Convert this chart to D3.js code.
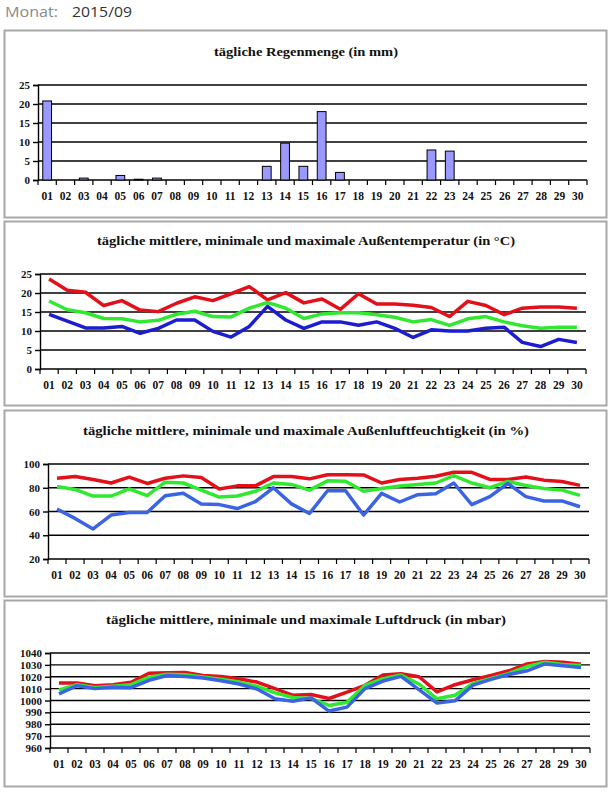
<!DOCTYPE html>
<html><head><meta charset="utf-8">
<script src="https://cdn.jsdelivr.net/npm/d3@7"></script>
<style>body{margin:0;background:#fff}svg{display:block}</style>
</head><body><svg id="c" width="610" height="793"></svg>
<script>
const days = ["01","02","03","04","05","06","07","08","09","10","11","12","13","14","15","16","17","18","19","20","21","22","23","24","25","26","27","28","29","30"];

const rain = [20.8,0,0.5,0,1.2,0.2,0.5,0,0,0,0,0,3.6,9.7,3.6,18,2.0,0,0,0,0,7.9,7.6,0,0,0,0,0,0,0];
const rainTicks = [0,5,10,15,20,25];

const tempMax  = [23.7,20.7,20.2,16.7,18.0,15.5,15.1,17.3,19.0,18.0,19.8,21.7,18.2,20.1,17.4,18.4,15.7,19.8,17.1,17.1,16.8,16.2,13.8,17.8,16.7,14.3,16.0,16.3,16.3,16.0];
const tempMean = [17.9,15.6,14.8,13.3,13.2,12.4,12.8,14.4,15.2,13.8,13.7,16.0,17.5,16.0,13.3,14.5,14.8,14.8,14.3,13.6,12.4,13.0,11.5,13.2,13.8,12.4,11.4,10.7,11.0,11.0];
const tempMin  = [14.4,12.6,10.8,10.8,11.2,9.4,10.7,12.9,12.9,9.9,8.4,11.2,16.5,12.9,10.7,12.4,12.4,11.5,12.4,10.7,8.3,10.3,10.0,10.0,10.7,11.0,7.0,5.9,7.8,7.0];
const tempTicks = [0,5,10,15,20,25];

const humMax  = [88,89.4,87,84,89,83.6,88,90,88.6,79,81.6,81.6,89.4,89.4,87.5,91,91,90.8,84,87,88,89.7,93,93,87,87,89,86.4,85.3,82];
const humMean = [81,78.6,73,73,79,73.3,84.7,84,78,72.2,73,77,84,82.8,78,85.8,85.5,77,79.4,81.4,82.8,84,90.3,84,80,85.3,81.9,79.4,78,73.6];
const humMin  = [62,54.2,45.3,57,59.2,59.2,73.3,75.3,66.4,65.8,62.5,68.3,80,66.4,58.3,77.5,77.5,57,75.3,68,74.2,75,84,65.8,72.5,83.6,72.5,68.9,68.9,64];
const humTicks = [20,40,60,80,100];

const presMax  = [1014.7,1014.7,1012.5,1013.3,1015.3,1023,1023.3,1023.6,1021,1020.3,1018.3,1015.5,1010,1004.4,1005,1001.7,1007,1012.8,1021.4,1022.5,1020,1007.2,1013.3,1017.5,1021,1025,1030.8,1032.8,1032.2,1030.5];
const presMean = [1009,1013.3,1011,1012,1013.3,1019.7,1022.2,1021.7,1019.7,1018,1015.5,1012,1006.4,1002.5,1001.7,995.8,998.6,1012.8,1018.3,1021.4,1013.9,1001.4,1004.4,1014.4,1018.6,1022.8,1028.6,1032.2,1030.3,1029.4];
const presMin  = [1005.6,1012.5,1010,1011.1,1010.8,1017,1021.1,1020.3,1018.9,1016.7,1013.9,1009.7,1001.4,999.4,1002.2,991.1,994.4,1010,1016.4,1020.3,1009.2,997.8,999.7,1013,1017.8,1021.9,1025,1030.8,1029.2,1027.8];
const presTicks = [960,970,980,990,1000,1010,1020,1030,1040];

const titles = [
  "tägliche Regenmenge (in mm)",
  "tägliche mittlere, minimale und maximale Außentemperatur (in °C)",
  "tägliche mittlere, minimale und maximale Außenluftfeuchtigkeit (in %)",
  "tägliche mittlere, minimale und maximale Luftdruck (in mbar)"
];

const RED = "#e3101a", GREEN = "#30e830";
const panels = [
  {box:[30,217], x0:38, x1:587, y0:85, y1:180, ticks:rainTicks, title:titles[0], tw:184, bars:rain},
  {box:[221,405], x0:40, x1:586, y0:274, y1:369, ticks:tempTicks, title:titles[1], tw:418,
    lines:[[tempMax,RED],[tempMean,GREEN],[tempMin,"#1c1cd0"]]},
  {box:[410,596], x0:48, x1:589, y0:464, y1:559, ticks:humTicks, title:titles[2], tw:446,
    lines:[[humMax,RED],[humMean,GREEN],[humMin,"#3b64e4"]]},
  {box:[600,786], x0:50, x1:590, y0:653, y1:748, ticks:presTicks, title:titles[3], tw:400,
    lines:[[presMax,RED],[presMean,GREEN],[presMin,"#3b64e4"]]}
];

const svg = d3.select("#c");
svg.append("rect").attr("width",610).attr("height",793).attr("fill","#fff");

// header
svg.append("text").attr("x",5).attr("y",17).attr("font-family","Open Sans, sans-serif")
  .attr("font-size",15).attr("fill","#8a8a8a").attr("textLength",53).attr("lengthAdjust","spacingAndGlyphs").text("Monat:");
svg.append("text").attr("x",72).attr("y",17).attr("font-family","Open Sans, sans-serif")
  .attr("font-size",15).attr("fill","#333").attr("textLength",60).attr("lengthAdjust","spacingAndGlyphs").text("2015/09");

const fontTick = "Liberation Serif, DejaVu Serif, serif";

panels.forEach(p => {
  const g = svg.append("g");
  g.append("rect").attr("x",4.5).attr("y",p.box[0]+0.5).attr("width",602).attr("height",p.box[1]-p.box[0])
    .attr("fill","#fff").attr("stroke","#a8a8a8").attr("stroke-width",2);

  g.append("text").attr("x",306).attr("y",p.y0-32).attr("text-anchor","middle").attr("dominant-baseline","middle")
    .attr("font-family",fontTick).attr("font-weight","bold").attr("font-size",13).attr("fill","#111")
    .attr("textLength",p.tw).attr("lengthAdjust","spacingAndGlyphs").text(p.title);

  const x = d3.scaleBand().domain(days).range([p.x0,p.x1]);
  const y = d3.scaleLinear().domain(d3.extent(p.ticks)).range([p.y1,p.y0]);

  // gridlines
  g.append("g").selectAll("line").data(p.ticks.slice(1)).join("line")
    .attr("x1",p.x0).attr("x2",p.x1).attr("y1",d=>y(d)).attr("y2",d=>y(d))
    .attr("stroke","#000").attr("stroke-width",1.4);

  // y axis
  const ya = d3.axisLeft(y).tickValues(p.ticks).tickSize(5).tickPadding(3).tickFormat(d3.format("d"));
  const yg = g.append("g").attr("transform",`translate(${p.x0},0)`).call(ya);
  yg.select(".domain").attr("stroke","#000").attr("stroke-width",1.4);
  yg.selectAll(".tick line").attr("stroke","#000").attr("stroke-width",1.4);
  yg.selectAll(".tick text").attr("font-family",fontTick).attr("font-weight","bold").attr("font-size",11).attr("fill","#111");

  // x axis
  const xa = d3.axisBottom(x).tickSize(0).tickPadding(12);
  const xg = g.append("g").attr("transform",`translate(0,${p.y1})`).call(xa);
  xg.select(".domain").remove();
  xg.selectAll(".tick text").attr("font-family",fontTick).attr("font-weight","bold").attr("font-size",11.5).attr("fill","#111");
  g.append("line").attr("x1",p.x0).attr("x2",p.x1).attr("y1",p.y1).attr("y2",p.y1).attr("stroke","#000").attr("stroke-width",1.4);
  // x ticks at band boundaries
  const bounds = days.map(d=>x(d)).concat([x(days[days.length-1])+x.bandwidth()]);
  g.append("g").selectAll("line").data(bounds).join("line")
    .attr("x1",d=>d).attr("x2",d=>d).attr("y1",p.y1).attr("y2",p.y1+5).attr("stroke","#000").attr("stroke-width",1.2);

  if (p.bars) {
    const bw = x.bandwidth()*0.48;
    g.append("g").selectAll("rect").data(p.bars.map((v,i)=>({d:days[i],v})).filter(o=>o.v>0)).join("rect")
      .attr("x",o=>x(o.d)+(x.bandwidth()-bw)/2).attr("width",bw)
      .attr("y",o=>y(o.v)).attr("height",o=>p.y1-y(o.v))
      .attr("fill","#9999ff").attr("stroke","#000").attr("stroke-width",1);
  }
  if (p.lines) {
    const line = d3.line().x((v,i)=>x(days[i])+x.bandwidth()/2).y(v=>y(v));
    p.lines.forEach(([vals,col]) => {
      g.append("path").attr("d",line(vals)).attr("fill","none").attr("stroke",col)
        .attr("stroke-width",3.5).attr("stroke-linejoin","round").attr("stroke-linecap","butt");
    });
  }
});
</script></body></html>
